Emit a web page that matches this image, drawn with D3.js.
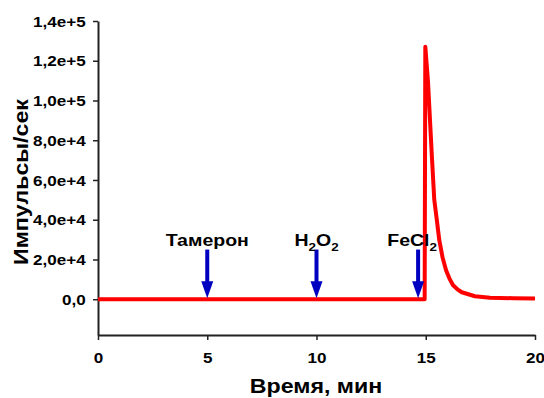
<!DOCTYPE html>
<html>
<head>
<meta charset="utf-8">
<script src="https://cdn.jsdelivr.net/npm/d3@7"></script>
<style>
  body { margin: 0; background: #fff; }
  text { font-family: "Liberation Sans", Arial, sans-serif; font-weight: bold; fill: #000; }
</style>
</head>
<body>
<svg id="chart" width="544" height="398"></svg>
<script>
// time, min
const time = [0, 14.95, 14.98, 15.1, 15.29, 15.39, 15.5, 15.62, 15.77, 15.93, 16.08, 16.25, 16.45, 16.65, 17.25, 17.94, 19, 20];
// impulses/sec
const counts = [0, 0, 127000, 110000, 70000, 50000, 40500, 29700, 21000, 14600, 10500, 7000, 5000, 3500, 1500, 750, 500, 400];

const xTicks = [0, 5, 10, 15, 20];
const yTicks = [0, 20000, 40000, 60000, 80000, 100000, 120000, 140000];

// additions marked with arrows
const arrowNames = [["Тамерон"], ["H", "2", "O", "2"], ["Fe", "Cl", "2"]];
const arrowTimes = [5, 10, 14.65];
const arrowTop = 25000;

const svg = d3.select("#chart");
const stretch = 1.22;

const x = d3.scaleLinear().domain([0, 20]).range([98, 535]);
const y = d3.scaleLinear().domain([-18000, 140000]).range([335, 21]);

// axes
const yAxis = svg.append("g")
    .attr("transform", "translate(" + x(0) + ",0)")
    .call(d3.axisLeft(y).tickValues(yTicks).tickSize(5).tickSizeOuter(0).tickPadding(5)
        .tickFormat(v => v === 0 ? "0,0" : v.toExponential(1).replace(".", ",")));

const xAxis = svg.append("g")
    .attr("transform", "translate(0," + y(-18000) + ")")
    .call(d3.axisBottom(x).tickValues(xTicks).tickSize(5).tickSizeOuter(0));

[xAxis, yAxis].forEach(g => {
  g.select(".domain").attr("stroke", "#222").attr("stroke-width", 2);
  g.selectAll(".tick line").attr("stroke", "#222").attr("stroke-width", 1.5);
  g.selectAll(".tick text")
      .style("font-size", "14px")
      .attr("fill", "#000")
      .attr("transform", "scale(" + stretch + ",1)");
});
xAxis.selectAll(".tick text").attr("y", 28).attr("dy", null);
yAxis.selectAll(".tick text").attr("dy", "0.36em");

// axis titles
svg.append("text")
    .attr("transform", "translate(316,393) scale(1.16,1)")
    .attr("text-anchor", "middle")
    .style("font-size", "20px")
    .text("Время, мин");

svg.append("text")
    .attr("transform", "translate(28,182) rotate(-90) scale(1.16,1)")
    .attr("text-anchor", "middle")
    .style("font-size", "20px")
    .text("Импульсы/сек");

// signal
const pts = time.map((t, i) => [t, counts[i]]);
const line = d3.line()
    .x(d => x(d[0]))
    .y(d => y(d[1]));

svg.append("path")
    .datum(pts)
    .attr("fill", "none")
    .attr("stroke", "#ff0000")
    .attr("stroke-width", 4)
    .attr("stroke-linejoin", "round")
    .attr("d", line);

// arrows
const labelShift = [0, 0, -6];
arrowTimes.forEach((t, i) => {
  const ax = x(t), y0 = y(arrowTop), y1 = y(0);
  svg.append("line")
      .attr("x1", ax).attr("x2", ax)
      .attr("y1", y0).attr("y2", y1 - 14)
      .attr("stroke", "#0000c0")
      .attr("stroke-width", 4);
  svg.append("path")
      .attr("d", "M" + (ax - 6) + "," + (y1 - 18) + "L" + (ax + 6) + "," + (y1 - 18) + "L" + ax + "," + (y1 - 1) + "Z")
      .attr("fill", "#0000c0");

  const lbl = svg.append("text")
      .attr("transform", "translate(" + (ax + labelShift[i]) + "," + (y0 - 4) + ") scale(" + stretch + ",1)")
      .attr("text-anchor", "middle")
      .style("font-size", "16px");
  let prevSub = false;
  arrowNames[i].forEach(part => {
    const sub = /^\d$/.test(part);
    lbl.append("tspan")
        .style("font-size", sub ? "11px" : "16px")
        .attr("dy", sub ? 5 : (prevSub ? -5 : 0))
        .text(part);
    prevSub = sub;
  });
});
</script>
</body>
</html>
